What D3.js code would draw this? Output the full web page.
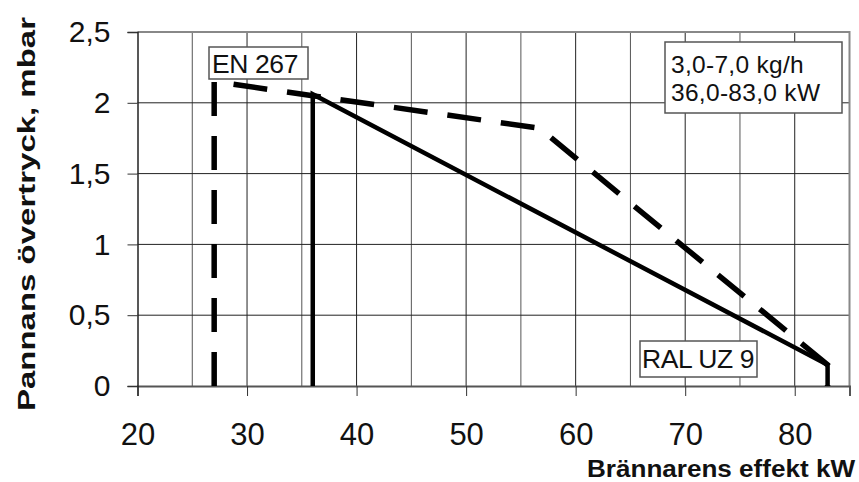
<!DOCTYPE html>
<html>
<head>
<meta charset="utf-8">
<script src="https://cdn.jsdelivr.net/npm/d3@7"></script>
<style>
  body { margin: 0; background: #fff; }
  text { font-family: "Liberation Sans", Arial, sans-serif; fill: #111; }
</style>
</head>
<body>
<div id="chart"></div>
<script>

// data //

var xTicks = [20, 30, 40, 50, 60, 70, 80];
var xGrid = [25, 30, 35, 40, 45, 50, 55, 60, 65, 70, 75, 80];
var yTicks = [0, 0.5, 1, 1.5, 2, 2.5];
var yTickLabels = ["0", "0,5", "1", "1,5", "2", "2,5"];

// RAL UZ 9 curve (solid)
var ralX = [36, 36, 83, 83];
var ralY = [0, 2.06, 0.15, 0];

// EN 267 curve (dashed)
var enX = [27, 27, 36, 56.7, 83, 83];
var enY = [0, 2.15, 2.05, 1.82, 0.15, 0];

var rangeLines = ["3,0-7,0 kg/h", "36,0-83,0 kW"];

var width = 859, height = 482;
var plotL = 137.5, plotR = 849.5, plotT = 32, plotB = 386;

var svg = d3.select('#chart').append('svg')
            .attr('width', width)
            .attr('height', height);

var x = d3.scaleLinear().domain([20, 85]).range([plotL, plotR]);
var y = d3.scaleLinear().domain([0, 2.5]).range([plotB, plotT]);

// grid //

svg.selectAll('.vgrid')
   .data(xGrid)
   .enter().append('line')
   .attr('x1', function(d){ return x(d); })
   .attr('x2', function(d){ return x(d); })
   .attr('y1', plotT).attr('y2', plotB)
   .attr('stroke', function(d){ return d % 10 === 0 ? '#222' : '#555'; })
   .attr('stroke-width', 1);

svg.selectAll('.hgrid')
   .data(yTicks.slice(1, -1))
   .enter().append('line')
   .attr('x1', plotL).attr('x2', plotR)
   .attr('y1', function(d){ return y(d); })
   .attr('y2', function(d){ return y(d); })
   .attr('stroke', '#222')
   .attr('stroke-width', 1);

// frame
svg.append('path')
   .attr('d', 'M' + plotL + ',' + plotT + 'H' + plotR + 'V' + plotB)
   .attr('fill', 'none')
   .attr('stroke', '#888')
   .attr('stroke-width', 2);

// axes //

var xAxis = d3.axisBottom(x)
              .tickValues(xTicks)
              .tickSize(10)
              .tickPadding(27)
              .tickFormat(d3.format('d'));

var gx = svg.append('g')
            .attr('transform', 'translate(0,' + plotB + ')')
            .call(xAxis);
gx.select('.domain').attr('stroke', '#555').attr('stroke-width', 2);
gx.selectAll('.tick line').attr('stroke', '#333');
gx.selectAll('.tick text')
  .attr('font-size', 31)
  .attr('fill', '#111')
  .attr('dy', '0.71em');

var yAxis = d3.axisLeft(y)
              .tickValues(yTicks)
              .tickSize(10)
              .tickPadding(17)
              .tickFormat(function(d, i){ return yTickLabels[i]; });

var gy = svg.append('g')
            .attr('transform', 'translate(' + plotL + ',0)')
            .call(yAxis);
gy.select('.domain').attr('stroke', '#222').attr('stroke-width', 1.5);
gy.selectAll('.tick line').attr('stroke', '#333');
gy.selectAll('.tick text')
  .attr('font-size', 30)
  .attr('fill', '#111');

// curves //

var line = d3.line()
             .x(function(d){ return x(d[0]); })
             .y(function(d){ return y(d[1]); });

svg.append('path')
   .datum(enX.map(function(v, i){ return [v, enY[i]]; }))
   .attr('d', line)
   .attr('fill', 'none')
   .attr('stroke', '#000')
   .attr('stroke-width', 5.5)
   .attr('stroke-dasharray', '34,20')
   .attr('stroke-linejoin', 'miter');

svg.append('path')
   .datum(ralX.map(function(v, i){ return [v, ralY[i]]; }))
   .attr('d', line)
   .attr('fill', 'none')
   .attr('stroke', '#000')
   .attr('stroke-width', 4.5)
   .attr('stroke-linejoin', 'miter');

// labels //

function boxLabel(bx, by, bw, bh, lines, tx, ty, lh, fs, ls){
	var g = svg.append('g');
	g.append('rect')
	 .attr('x', bx).attr('y', by)
	 .attr('width', bw).attr('height', bh)
	 .attr('fill', '#fff')
	 .attr('stroke', '#555')
	 .attr('stroke-width', 1.5);
	g.selectAll('text')
	 .data(lines)
	 .enter().append('text')
	 .attr('x', tx)
	 .attr('y', function(d, i){ return ty + i * lh; })
	 .attr('font-size', fs)
	 .attr('letter-spacing', ls)
	 .text(function(d){ return d; });
}

boxLabel(209, 47, 99, 32, ["EN 267"], 212, 73, 0, 26.5, -0.4);
boxLabel(665, 42, 177, 71, rangeLines, 671, 72.5, 28.5, 24.5, 0.3);
boxLabel(640, 341, 117, 36, ["RAL UZ 9"], 642, 368, 0, 26.5, -0.4);

// axis titles
svg.append('text')
   .attr('x', 855).attr('y', 477)
   .attr('text-anchor', 'end')
   .attr('font-size', 23)
   .attr('font-weight', 'bold')
   .attr('textLength', 268)
   .attr('lengthAdjust', 'spacingAndGlyphs')
   .text('Brännarens effekt kW');

svg.append('text')
   .attr('transform', 'translate(35,214) rotate(-90)')
   .attr('text-anchor', 'middle')
   .attr('font-size', 23)
   .attr('font-weight', 'bold')
   .attr('textLength', 394)
   .attr('lengthAdjust', 'spacingAndGlyphs')
   .text('Pannans övertryck, mbar');

</script>
</body>
</html>
